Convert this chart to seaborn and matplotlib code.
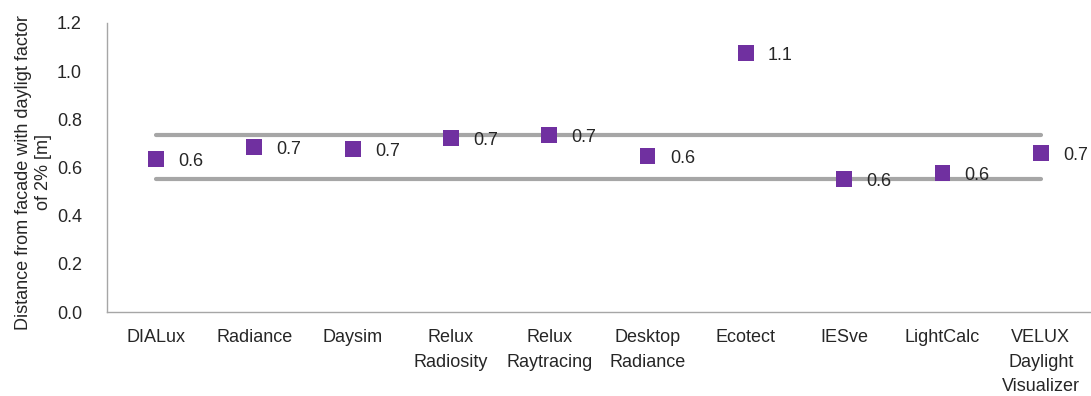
import matplotlib
matplotlib.use("Agg")
import matplotlib.pyplot as plt
import seaborn as sns
import pandas as pd

# values
programs = ["DIALux", "Radiance", "Daysim", "Relux\nRadiosity", "Relux\nRaytracing",
            "Desktop\nRadiance", "Ecotect", "IESve", "LightCalc",
            "VELUX\nDaylight\nVisualizer"]
distance = [0.635, 0.686, 0.676, 0.724, 0.735, 0.648, 1.077, 0.553, 0.578, 0.661]
upper_band = [0.735, 0.735, 0.735, 0.735, 0.735, 0.735, 0.735, 0.735, 0.735, 0.735]
lower_band = [0.553, 0.553, 0.553, 0.553, 0.553, 0.553, 0.553, 0.553, 0.553, 0.553]
y_ticks = [0.0, 0.2, 0.4, 0.6, 0.8, 1.0, 1.2]

sns.set_style("white")
plt.rcParams['font.family'] = ['Liberation Sans', 'DejaVu Sans']

df = pd.DataFrame({"program": programs, "distance": distance,
                   "upper": upper_band, "lower": lower_band})
df["pos"] = range(len(df))

fig = plt.figure(figsize=(10.91, 3.96), dpi=100)
ax = fig.add_axes([0.098, 0.212, 0.901, 0.730])

# grey band lines
sns.lineplot(data=df, x="pos", y="upper", ax=ax, color="#A6A6A6", linewidth=3,
             solid_capstyle="round", zorder=1)
sns.lineplot(data=df, x="pos", y="lower", ax=ax, color="#A6A6A6", linewidth=3,
             solid_capstyle="round", zorder=1)

# purple square markers
sns.scatterplot(data=df, x="pos", y="distance", ax=ax, marker="s", s=130,
                color="#7030A0", edgecolor="none", zorder=3)

for i, v in enumerate(distance):
    ax.annotate(f"{v:.1f}", (i, v), xytext=(16, -2), textcoords="offset points",
                ha="left", va="center", fontsize=13, color="#262626", zorder=4)

ax.set_xlim(-0.5, len(programs) - 0.5)
ax.set_ylim(0, 1.2)
ax.set_xticks(range(len(programs)))
ax.set_xticklabels(programs, fontsize=13, color="#262626", va="top", linespacing=1.6)
ax.set_yticks(y_ticks)
ax.set_yticklabels([f"{t:.1f}" for t in y_ticks], fontsize=13, color="#262626")
ax.tick_params(axis="x", length=0, pad=12)
ax.tick_params(axis="y", length=0, pad=18)
ax.set_xlabel("")
ax.set_ylabel("Distance from facade with dayligt factor\nof 2% [m]", fontsize=13,
              color="#262626", linespacing=1.2)
ax.yaxis.set_label_coords(-0.056, 0.483)

for side in ["top", "right"]:
    ax.spines[side].set_visible(False)
for side in ["left", "bottom"]:
    ax.spines[side].set_color("#A6A6A6")
    ax.spines[side].set_linewidth(1)

fig.savefig("out.png", dpi=100)
